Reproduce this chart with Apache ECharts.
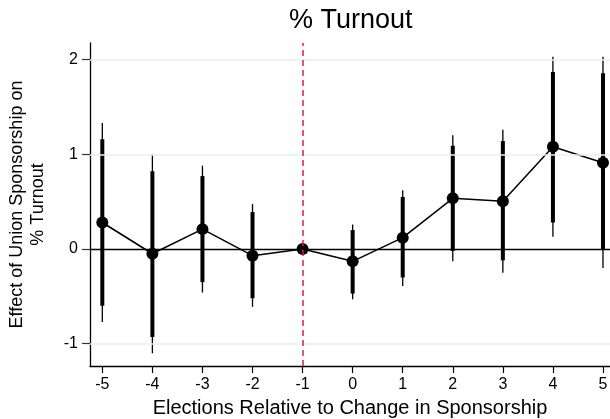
<!DOCTYPE html>
<html>
<head>
<meta charset="utf-8">
<script src="https://cdn.jsdelivr.net/npm/echarts@6/dist/echarts.min.js"></script>
<style>
html,body{margin:0;padding:0;background:#fff;}
#chart{width:610px;height:419px;}
</style>
</head>
<body>
<div id="chart"></div>
<script>
// Data
var xValues = [-5, -4, -3, -2, -1, 0, 1, 2, 3, 4, 5];
var estimates = [0.28, -0.05, 0.21, -0.07, 0, -0.13, 0.12, 0.535, 0.505, 1.08, 0.91];
var lo95 = [-0.77, -1.10, -0.46, -0.61, null, -0.53, -0.39, -0.13, -0.25, 0.13, -0.20];
var hi95 = [1.33, 1.00, 0.88, 0.475, null, 0.26, 0.62, 1.20, 1.26, 2.03, 2.03];
var lo90 = [-0.60, -0.93, -0.35, -0.52, null, -0.47, -0.30, -0.02, -0.12, 0.28, -0.01];
var hi90 = [1.16, 0.82, 0.77, 0.39, null, 0.20, 0.55, 1.09, 1.14, 1.87, 1.855];
var xTicks = [-5, -4, -3, -2, -1, 0, 1, 2, 3, 4, 5];
var yTicks = [-1, 0, 1, 2];
var yGridLines = [-1, 1, 2];
var refX = -1;
var refY = 0;

var FONT = '"Liberation Sans", Arial, Helvetica, sans-serif';

var ciData = [];
for (var i = 0; i < xValues.length; i++) {
  if (lo95[i] !== null) ciData.push([xValues[i], lo95[i], hi95[i], lo90[i], hi90[i]]);
}
var pointData = xValues.map(function (x, i) { return [x, estimates[i]]; });

var chart = echarts.init(document.getElementById('chart'), null, {renderer: 'canvas'});
chart.setOption({
  animation: false,
  backgroundColor: '#fff',
  title: {
    text: '% Turnout',
    left: 289,
    top: 7,
    padding: 0,
    textStyle: {fontFamily: FONT, fontSize: 27, fontWeight: 'normal', color: '#000'}
  },
  grid: {left: 90, right: 0, top: 43, bottom: 53, outerBoundsMode: 'none', containLabel: false},
  xAxis: {
    type: 'value',
    min: -5.246,
    max: 5.14,
    name: 'Elections Relative to Change in Sponsorship',
    nameLocation: 'middle',
    nameGap: 32,
    nameTextStyle: {fontFamily: FONT, fontSize: 20, color: '#000', verticalAlign: 'top'},
    axisLine: {show: true, onZero: false, lineStyle: {color: '#000', width: 1.3}},
    axisTick: {show: true, length: 7, customValues: xTicks, lineStyle: {color: '#000', width: 1.2}},
    axisLabel: {customValues: xTicks, margin: 11, fontFamily: FONT, fontSize: 16, color: '#000'},
    splitLine: {show: false}
  },
  yAxis: {
    type: 'value',
    min: -1.235,
    max: 2.175,
    name: 'Effect of Union Sponsorship on\n% Turnout',
    nameLocation: 'middle',
    nameRotate: 90,
    nameGap: 41,
    nameTextStyle: {fontFamily: FONT, fontSize: 18, color: '#000', lineHeight: 21, align: 'center'},
    axisLine: {show: true, onZero: false, lineStyle: {color: '#000', width: 1.3}},
    axisTick: {show: true, length: 8, customValues: yTicks, lineStyle: {color: '#333', width: 1.2}},
    axisLabel: {customValues: yTicks, margin: 12, fontFamily: FONT, fontSize: 16, color: '#000'},
    splitLine: {show: false}
  },
  series: [
    {
      type: 'line',
      data: [],
      silent: true,
      markLine: {
        silent: true,
        symbol: 'none',
        label: {show: false},
        animation: false,
        data: yGridLines.map(function (v) {
          return {yAxis: v, lineStyle: {color: '#e8eff2', width: 1.5, type: 'solid'}};
        }).concat([
          {yAxis: refY, lineStyle: {color: '#000', width: 1.3, type: 'solid'}},
          {xAxis: refX, lineStyle: {color: '#d81e4f', width: 1.5, type: [6, 4]}}
        ])
      }
    },
    {
      type: 'custom',
      data: ciData,
      z: 3,
      renderItem: function (params, api) {
        var x = api.value(0);
        var a = api.coord([x, api.value(1)]);
        var b = api.coord([x, api.value(2)]);
        var c = api.coord([x, api.value(3)]);
        var d = api.coord([x, api.value(4)]);
        return {
          type: 'group',
          children: [
            {type: 'line', shape: {x1: a[0], y1: a[1], x2: b[0], y2: b[1]}, style: {stroke: '#000', lineWidth: 1.3}},
            {type: 'line', shape: {x1: c[0], y1: c[1], x2: d[0], y2: d[1]}, style: {stroke: '#000', lineWidth: 4}}
          ]
        };
      }
    },
    {
      type: 'line',
      data: pointData,
      z: 4,
      symbol: 'circle',
      symbolSize: 12,
      lineStyle: {color: '#000', width: 1.5},
      itemStyle: {color: '#000'}
    }
  ]
});
</script>
</body>
</html>
